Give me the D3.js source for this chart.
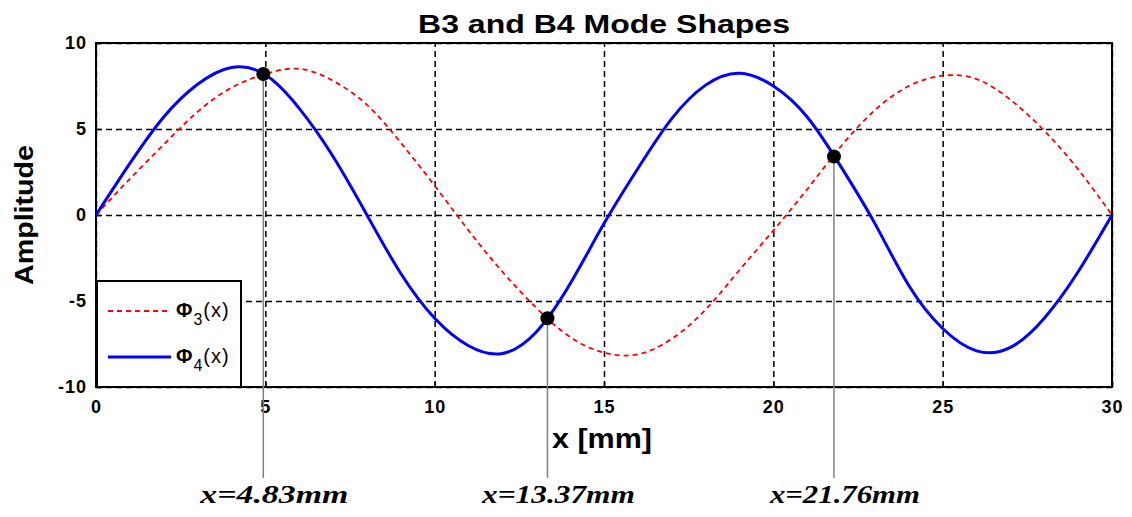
<!DOCTYPE html>
<html>
<head>
<meta charset="utf-8">
<script src="https://cdn.jsdelivr.net/npm/d3@7"></script>
<style>
  body { margin: 0; background: #fff; }
  text { font-family: Arial, "Liberation Sans", sans-serif; }
</style>
</head>
<body>
<svg id="chart" width="1132" height="517"></svg>
<script>
var xPos = [0, 1, 2, 3, 4, 5, 6, 7, 8, 9, 10, 11, 12, 13, 14, 15, 16, 17, 18, 19, 20, 21, 22, 23, 24, 25, 26, 27, 28, 29, 30];
var phi3 = [0, 2.1, 4.1, 6.0, 7.4, 8.2, 8.5, 7.8, 6.4, 4.2, 1.7, -0.9, -3.3, -5.4, -7.1, -8.0, -8.1, -7.2, -5.5, -3.2, -0.9, 1.5, 4.0, 6.1, 7.5, 8.1, 7.9, 6.7, 4.9, 2.65, 0];
var phi4 = [0, 3.0, 5.7, 7.6, 8.58, 8.15, 6.2, 3.4, 0, -3.4, -6.0, -7.6, -8.05, -6.8, -4.0, -0.5, 2.7, 5.6, 7.55, 8.24, 7.5, 5.7, 2.8, -0.5, -4.1, -6.6, -7.9, -7.7, -6.0, -3.3, 0];

// intersection markers
var markerX = [4.94, 13.33, 21.79];
var markerY = [8.2, -6.0, 3.4];
var markerLabels = ["x=4.83mm", "x=13.37mm", "x=21.76mm"];

var xTicks = [0, 5, 10, 15, 20, 25, 30];
var yTicks = [-10, -5, 0, 5, 10];

var svg = d3.select("#chart");
var m = {left: 96, right: 1112, top: 43, bottom: 387};

var x = d3.scaleLinear().domain([0, 30]).range([m.left, m.right]);
var y = d3.scaleLinear().domain([-10, 10]).range([m.bottom, m.top]);

// grid
svg.append("g")
    .attr("transform", "translate(0," + m.bottom + ")")
    .call(d3.axisBottom(x).tickValues(xTicks).tickSize(-(m.bottom - m.top)).tickFormat(""))
    .call(function (g) {
        g.select(".domain").remove();
        g.selectAll("line").attr("stroke", "#000").attr("stroke-width", 1.5).attr("stroke-dasharray", "6,4");
    });
svg.append("g")
    .attr("transform", "translate(" + m.left + ",0)")
    .call(d3.axisLeft(y).tickValues(yTicks).tickSize(-(m.right - m.left)).tickFormat(""))
    .call(function (g) {
        g.select(".domain").remove();
        g.selectAll("line").attr("stroke", "#000").attr("stroke-width", 1.5).attr("stroke-dasharray", "6,4");
    });

// axes with inward ticks
var xAxis = svg.append("g")
    .attr("transform", "translate(0," + m.bottom + ")")
    .call(d3.axisBottom(x).tickValues(xTicks).tickFormat(String).tickSizeInner(-5).tickSizeOuter(0).tickPadding(13));
var yAxis = svg.append("g")
    .attr("transform", "translate(" + m.left + ",0)")
    .call(d3.axisLeft(y).tickValues(yTicks).tickFormat(String).tickSizeInner(-5).tickSizeOuter(0).tickPadding(9));
[xAxis, yAxis].forEach(function (g) {
    g.select(".domain").remove();
    g.selectAll("line").attr("stroke", "#000").attr("stroke-width", 1.5);
    g.selectAll("text").attr("fill", "#000").style("font-size", "18px").style("font-weight", "bold")
        .style("letter-spacing", "1px");
});

// frame
svg.append("rect")
    .attr("x", m.left).attr("y", m.top)
    .attr("width", m.right - m.left).attr("height", m.bottom - m.top)
    .attr("fill", "none").attr("stroke", "#000").attr("stroke-width", 2);

// curves
var curveLine = d3.line().x(function (d, i) { return x(xPos[i]); }).y(function (d) { return y(d); }).curve(d3.curveNatural);

svg.append("path")
    .datum(phi3)
    .attr("d", curveLine)
    .attr("fill", "none")
    .attr("stroke", "#ff0000")
    .attr("stroke-width", 1.8)
    .attr("stroke-dasharray", "5,4");

svg.append("path")
    .datum(phi4)
    .attr("d", curveLine)
    .attr("fill", "none")
    .attr("stroke", "#0000ff")
    .attr("stroke-width", 3);

// annotation lines + markers
svg.selectAll(".ann")
    .data(markerX)
    .enter().append("line")
    .attr("class", "ann")
    .attr("x1", function (d) { return x(d); })
    .attr("x2", function (d) { return x(d); })
    .attr("y1", function (d, i) { return y(markerY[i]); })
    .attr("y2", 478)
    .attr("stroke", "#808080")
    .attr("stroke-width", 1.5);

svg.selectAll(".mk")
    .data(markerX)
    .enter().append("circle")
    .attr("class", "mk")
    .attr("cx", function (d) { return x(d); })
    .attr("cy", function (d, i) { return y(markerY[i]); })
    .attr("r", 7)
    .attr("fill", "#000");

var annWidths = [148, 153, 150];
svg.selectAll(".annText")
    .data(markerX)
    .enter().append("text")
    .attr("class", "annText")
    .attr("x", function (d) { return x(d) + 11; })
    .attr("y", 503)
    .attr("text-anchor", "middle")
    .attr("textLength", function (d, i) { return annWidths[i]; })
    .attr("lengthAdjust", "spacingAndGlyphs")
    .style("font-family", "'Liberation Serif', 'Times New Roman', serif")
    .style("font-style", "italic")
    .style("font-weight", "bold")
    .style("font-size", "25px")
    .text(function (d, i) { return markerLabels[i]; });

// legend
var legend = svg.append("g");
legend.append("rect")
    .attr("x", 97).attr("y", 281)
    .attr("width", 144).attr("height", 106)
    .attr("fill", "#fff").attr("stroke", "#000").attr("stroke-width", 2);

var legendItems = [
    {sub: "3", color: "#ff0000", width: 1.8, dash: "5,4", y: 311},
    {sub: "4", color: "#0000ff", width: 3, dash: null, y: 357}
];
legendItems.forEach(function (it) {
    legend.append("line")
        .attr("x1", 108).attr("x2", 171)
        .attr("y1", it.y).attr("y2", it.y)
        .attr("stroke", it.color)
        .attr("stroke-width", it.width)
        .attr("stroke-dasharray", it.dash);
    var t = legend.append("text")
        .attr("x", 176).attr("y", it.y + 6)
        .style("font-size", "20px")
        .style("letter-spacing", "1px");
    t.append("tspan").style("font-weight", "bold").text("\u03A6");
    t.append("tspan").attr("dy", 8).style("font-size", "16px").text(it.sub);
    t.append("tspan").attr("dy", -8).text("(x)");
});

// titles
svg.append("text")
    .attr("x", 604).attr("y", 33)
    .attr("text-anchor", "middle")
    .attr("textLength", 372)
    .attr("lengthAdjust", "spacingAndGlyphs")
    .style("font-size", "26px").style("font-weight", "bold")
    .text("B3 and B4 Mode Shapes");

svg.append("text")
    .attr("x", 602).attr("y", 448)
    .attr("text-anchor", "middle")
    .attr("textLength", 100)
    .attr("lengthAdjust", "spacingAndGlyphs")
    .style("font-size", "28px").style("font-weight", "bold")
    .text("x [mm]");

svg.append("text")
    .attr("transform", "translate(33,215) rotate(-90)")
    .attr("text-anchor", "middle")
    .attr("textLength", 140)
    .attr("lengthAdjust", "spacingAndGlyphs")
    .style("font-size", "25px").style("font-weight", "bold")
    .text("Amplitude");
</script>
</body>
</html>
